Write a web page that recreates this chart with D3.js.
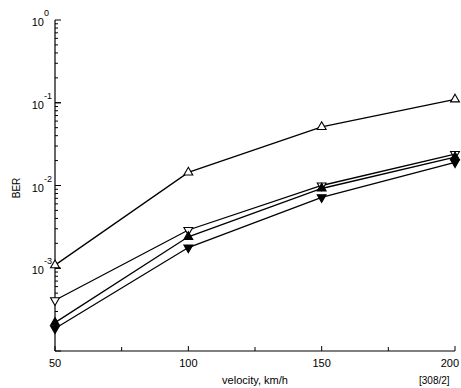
<!DOCTYPE html>
<html><head><meta charset="utf-8">
<script src="https://cdn.jsdelivr.net/npm/d3@7"></script>
<style>body{margin:0;background:#fff}svg{display:block;font-family:"Liberation Sans",Arial,sans-serif}</style>
</head><body><svg id="c" width="461" height="388"></svg>
<script>
const velocities = [50, 100, 150, 200];
const seriesOpenUp = [1.09e-3, 1.44e-2, 5.1e-2, 1.1e-1];
const seriesOpenDown = [4.1e-4, 2.9e-3, 1.0e-2, 2.4e-2];
const seriesFilledUp = [2.2e-4, 2.4e-3, 9.2e-3, 2.2e-2];
const seriesFilledDown = [1.87e-4, 1.78e-3, 7.2e-3, 1.9e-2];
const xTicks = [50, 100, 150, 200];
const xMinorTicks = [75, 125, 175];
const yDecades = [0, -1, -2, -3];

const series = [
  {v: seriesOpenUp, sym: d3.symbolTriangle, fill: "#fff", rot: 0},
  {v: seriesOpenDown, sym: d3.symbolTriangle, fill: "#fff", rot: 180},
  {v: seriesFilledUp, sym: d3.symbolTriangle, fill: "#000", rot: 0},
  {v: seriesFilledDown, sym: d3.symbolTriangle, fill: "#000", rot: 180}
];

const svg = d3.select("#c");
const x = d3.scaleLinear().domain([50, 200]).range([55, 455]);
const y = d3.scaleLog().domain([1e-4, 1]).range([351, 20]);

svg.append("line").attr("x1", 55).attr("x2", 55).attr("y1", 20).attr("y2", 351).attr("stroke", "#000").attr("stroke-width", 1.2);
svg.append("line").attr("x1", 55).attr("x2", 455).attr("y1", 351).attr("y2", 351).attr("stroke", "#000").attr("stroke-width", 1.2);

const g = svg.append("g");
for (let e = -4; e < 0; e++) {
  for (let m = 1; m <= 10; m++) {
    const val = m * Math.pow(10, e);
    const major = (m === 1 || m === 10);
    g.append("line").attr("x1", 55).attr("x2", 55 + (major ? 6 : 3))
      .attr("y1", y(val)).attr("y2", y(val)).attr("stroke", "#000").attr("stroke-width", 1);
  }
}
yDecades.forEach(e => {
  svg.append("text").attr("x", 44).attr("y", y(Math.pow(10, e)) + 6)
    .attr("text-anchor", "end").attr("font-size", 11).text("10");
  svg.append("text").attr("x", 44).attr("y", y(Math.pow(10, e)) - 4)
    .attr("font-size", 9).text(String(e));
});

xTicks.forEach((v, i) => {
  svg.append("line").attr("x1", x(v)).attr("x2", x(v)).attr("y1", 351).attr("y2", 346).attr("stroke", "#000");
  const last = i === xTicks.length - 1;
  svg.append("text").attr("x", last ? x(v) + 4 : x(v)).attr("y", 367)
    .attr("text-anchor", last ? "end" : "middle").attr("font-size", 11).text(v);
});
xMinorTicks.forEach(v => {
  svg.append("line").attr("x1", x(v)).attr("x2", x(v)).attr("y1", 351).attr("y2", 347).attr("stroke", "#000");
});

svg.append("text").attr("x", 255).attr("y", 384).attr("text-anchor", "middle").attr("font-size", 11).text("velocity, km/h");
svg.append("text").attr("x", 419).attr("y", 384).attr("font-size", 10).text("[308/2]");
svg.append("text").attr("transform", "translate(20,188) rotate(-90)").attr("text-anchor", "middle").attr("font-size", 10).text("BER");

const line = d3.line().x((d, i) => x(velocities[i])).y(d => y(d));
series.forEach(s => {
  svg.append("path").attr("d", line(s.v)).attr("fill", "none").attr("stroke", "#000").attr("stroke-width", 1.3);
});
series.forEach(s => {
  s.v.forEach((d, i) => {
    svg.append("path").attr("d", d3.symbol().type(s.sym).size(34)())
      .attr("transform", `translate(${x(velocities[i])},${y(d)}) rotate(${s.rot})`)
      .attr("fill", s.fill).attr("stroke", "#000").attr("stroke-width", 1.1);
  });
});
</script></body></html>
